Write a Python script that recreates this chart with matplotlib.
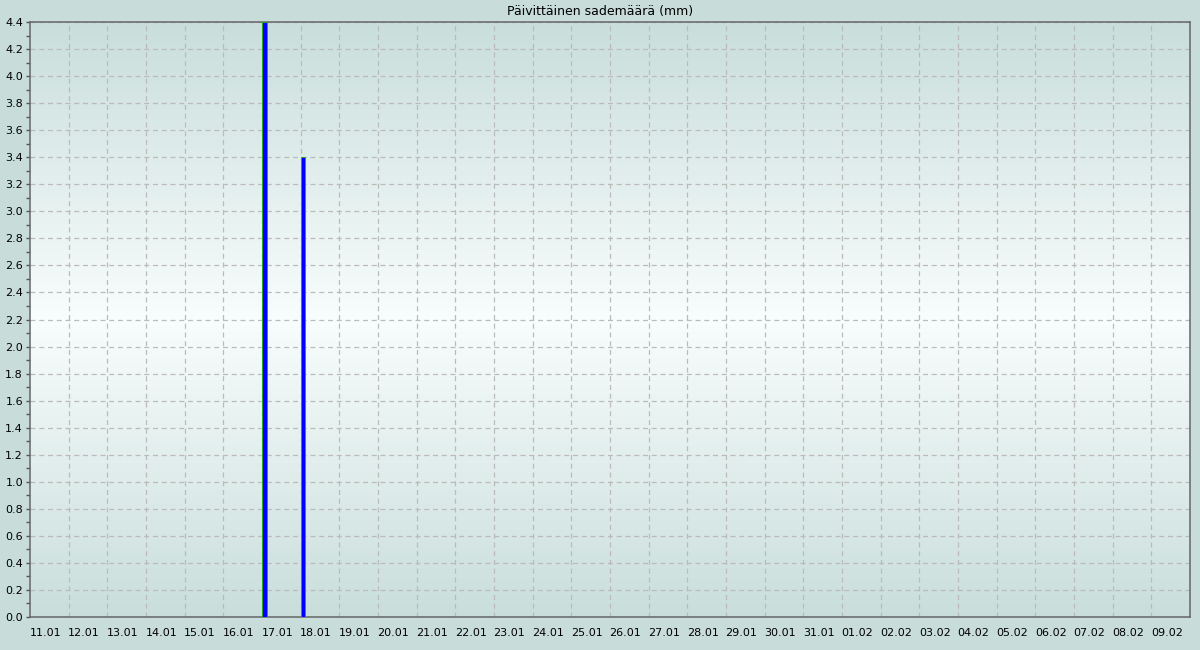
import numpy as np
import matplotlib
matplotlib.use("Agg")
import matplotlib.pyplot as plt
from matplotlib.colors import LinearSegmentedColormap

# daily rainfall, 11.01 - 09.02
days = ["11.01", "12.01", "13.01", "14.01", "15.01", "16.01", "17.01", "18.01", "19.01", "20.01",
        "21.01", "22.01", "23.01", "24.01", "25.01", "26.01", "27.01", "28.01", "29.01", "30.01",
        "31.01", "01.02", "02.02", "03.02", "04.02", "05.02", "06.02", "07.02", "08.02", "09.02"]
rain = [0, 0, 0, 0, 0, 0, 4.4, 3.4, 0, 0,
        0, 0, 0, 0, 0, 0, 0, 0, 0, 0,
        0, 0, 0, 0, 0, 0, 0, 0, 0, 0]

plt.rcParams['font.family'] = ['DejaVu Sans']

fig = plt.figure(figsize=(12, 6.5), dpi=100, facecolor="#c8dcda")
ax = fig.add_axes([30/1200, 1 - 617/650, 1160/1200, 595/650])

n = len(days)
ymax = 4.4

# background gradient (edge -> white in the middle -> edge)
cmap = LinearSegmentedColormap.from_list("bg", ["#c9dedb", "#f8fdfd", "#c9dedb"])
grad = np.linspace(0, 1, 256).reshape(-1, 1)
ax.imshow(grad, cmap=cmap, extent=[0, n, 0, ymax], aspect="auto", zorder=0)

x = np.arange(n)
ax.bar(x + 0.01, rain, width=0.11, align="edge", color="#0000ff", edgecolor="#22aa22",
       linewidth=0.7, zorder=3)

ax.set_xlim(0, n)
ax.set_ylim(0, ymax)

# grid at day boundaries, labels in the middle of the day
ax.set_xticks(np.arange(1, n), minor=False)
ax.set_xticklabels([])
ax.set_xticks(np.arange(n) + 0.4, minor=True)
ax.set_xticklabels(days, minor=True, fontsize=8)
ax.tick_params(axis="x", which="both", length=0, pad=8)

ax.set_yticks(np.round(np.arange(0, ymax + 0.01, 0.2), 1))
ax.set_yticklabels([f"{v:.1f}" for v in np.arange(0, ymax + 0.01, 0.2)], fontsize=8)
ax.set_yticks(np.arange(0.1, ymax, 0.2), minor=True)
ax.tick_params(axis="y", which="both", length=3, width=1, color="#555555", pad=2)

ax.grid(True, which="major", color="#bbbbbb", linestyle=(0, (4, 3)), linewidth=0.9, zorder=1)

for s in ax.spines.values():
    s.set_color("#666666")
    s.set_linewidth(1.1)

fig.text(0.5, 1 - 11/650, "Päivittäinen sademäärä (mm)", ha="center", va="center", fontsize=9)

plt.savefig("out.png", dpi=100, facecolor=fig.get_facecolor())
